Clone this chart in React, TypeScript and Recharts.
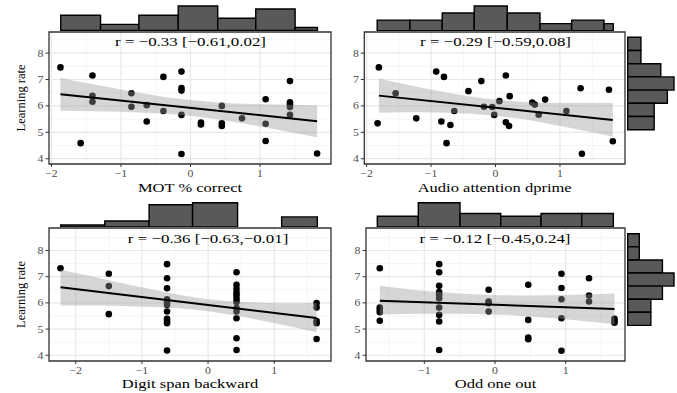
import React from 'react';
import {
  ComposedChart,
  Scatter,
  Line,
  Area,
  XAxis,
  YAxis,
  CartesianGrid,
  ReferenceArea,
  ReferenceDot,
} from 'recharts';

const FONT = '"Liberation Serif", "Times New Roman", serif';

// shared y axis
const yTicks = [4, 5, 6, 7, 8];
const yMinor = [4.5, 5.5, 6.5, 7.5, 8.5];

// MOT % correct
const motX = [-1.87, -1.58, -1.41, -1.41, -1.41, -0.85, -0.85, -0.63, -0.63, -0.39, -0.39, -0.13, -0.13, -0.13, -0.13, -0.13, 0.15, 0.15, 0.45, 0.45, 0.45, 0.74, 1.08, 1.08, 1.08, 1.43, 1.43, 1.43, 1.43, 1.43, 1.82];
const motY = [7.46, 4.59, 7.15, 6.38, 6.16, 6.48, 5.97, 6.03, 5.41, 7.1, 5.81, 7.3, 6.68, 6.58, 5.66, 4.18, 5.37, 5.3, 6.0, 5.34, 5.24, 5.53, 6.25, 5.32, 4.67, 6.94, 6.14, 6.06, 5.96, 5.66, 4.2];
const motFitX = [-1.87, 1.82];
const motFitY = [6.44, 5.42];
const motBandX = [-1.87, -1.4, -0.9, -0.4, 0, 0.4, 0.9, 1.4, 1.82];
const motBandLo = [5.82, 5.8, 5.77, 5.71, 5.62, 5.49, 5.27, 5.02, 4.81];
const motBandHi = [7.06, 6.82, 6.57, 6.35, 6.22, 6.13, 6.07, 6.04, 6.03];
const motHistEdges = [-1.866, -1.294, -0.743, -0.177, 0.391, 0.938, 1.504, 1.825];
const motHistCounts = [5, 2, 5, 8, 4, 7, 1];

// Audio attention dprime
const audX = [-1.81, -1.83, -1.55, -1.23, -0.92, -0.8, -0.84, -0.7, -0.76, -0.64, -0.42, -0.22, -0.18, -0.05, -0.02, 0.06, 0.16, 0.16, 0.22, 0.21, 0.57, 0.61, 0.67, 0.77, 1.1, 1.32, 1.34, 1.76, 1.82];
const audY = [7.46, 5.34, 6.48, 5.53, 7.3, 7.1, 5.41, 5.28, 4.59, 5.81, 6.56, 6.94, 5.97, 5.96, 5.66, 6.18, 7.15, 5.38, 6.37, 5.24, 6.13, 6.05, 5.67, 6.24, 5.81, 6.67, 4.19, 6.61, 4.66];
const audFitX = [-1.81, 1.82];
const audFitY = [6.39, 5.47];
const audBandX = [-1.81, -1.4, -0.9, -0.4, 0, 0.4, 0.9, 1.4, 1.82];
const audBandLo = [5.74, 5.76, 5.75, 5.7, 5.62, 5.5, 5.29, 5.05, 4.83];
const audBandHi = [7.04, 6.82, 6.57, 6.36, 6.24, 6.16, 6.11, 6.11, 6.11];
const audHistEdges = [-1.836, -1.328, -0.827, -0.33, 0.182, 0.69, 1.181, 1.683, 1.827];
const audHistCounts = [3, 3, 5, 7, 5, 2, 3, 2];

// Digit span backward
const digX = [-2.23, -1.5, -1.5, -1.5, -0.62, -0.62, -0.62, -0.62, -0.62, -0.62, -0.62, -0.62, -0.62, -0.62, -0.62, 0.43, 0.43, 0.43, 0.43, 0.43, 0.43, 0.43, 0.43, 0.43, 0.43, 0.43, 0.43, 1.64, 1.64, 1.64, 1.64, 1.64];
const digY = [7.32, 7.11, 6.64, 5.57, 7.48, 6.94, 6.56, 6.14, 6.03, 5.92, 5.67, 5.39, 5.31, 5.22, 4.18, 7.17, 6.69, 6.54, 6.39, 6.28, 6.15, 6.03, 5.8, 5.67, 5.41, 4.65, 4.2, 5.99, 5.82, 5.31, 5.22, 4.62];
const digFitX = [-2.23, 1.64];
const digFitY = [6.6, 5.42];
const digBandX = [-2.23, -1.7, -1.1, -0.5, 0, 0.5, 1.1, 1.64];
const digBandLo = [5.9, 5.9, 5.86, 5.8, 5.68, 5.48, 5.17, 4.88];
const digBandHi = [7.27, 6.98, 6.64, 6.34, 6.14, 6.04, 5.99, 6.0];
const digHistEdges = [-2.227, -1.561, -0.891, -0.234, 0.446, 1.112, 1.651];
const digHistCounts = [1, 3, 11, 12, 0, 5];

// Odd one out
const oddX = [-1.63, -1.63, -1.63, -1.63, -1.63, -0.79, -0.79, -0.79, -0.79, -0.79, -0.79, -0.79, -0.79, -0.79, -0.79, -0.09, -0.09, -0.09, -0.09, 0.47, 0.47, 0.47, 0.47, 0.94, 0.94, 0.94, 0.94, 0.94, 1.33, 1.33, 1.33, 1.69, 1.69, 1.69];
const oddY = [7.32, 5.82, 5.73, 5.64, 5.32, 7.48, 7.17, 6.65, 6.41, 6.31, 6.18, 5.82, 5.54, 5.29, 4.2, 6.5, 6.05, 5.99, 5.67, 6.69, 5.35, 4.68, 4.61, 7.11, 6.57, 6.14, 5.41, 4.17, 6.94, 6.28, 6.05, 5.39, 5.31, 5.24];
const oddFitX = [-1.63, 1.69];
const oddFitY = [6.08, 5.77];
const oddBandX = [-1.63, -1.1, -0.5, 0, 0.5, 1.1, 1.69];
const oddBandLo = [5.55, 5.58, 5.58, 5.56, 5.48, 5.35, 5.18];
const oddBandHi = [6.65, 6.48, 6.36, 6.3, 6.28, 6.31, 6.36];
const oddHistEdges = [-1.665, -1.085, -0.495, 0.081, 0.651, 1.227, 1.674];
const oddHistCounts = [4, 9, 5, 4, 5, 5];

// learning rate marginal (right column)
const rateEdges = [4.0, 4.5, 5.0, 5.5, 6.0, 6.5, 7.0, 7.5];
const rateCountsTop = [2, 2, 5, 7, 6, 4, 4];
const rateCountsBottom = [1, 1, 3, 4, 3, 2, 2];

const minus = (v: number) => String(v).replace('-', '\u2212');

const StretchText = ({ x, y, size, sx, fill = '#000', anchor = 'middle', dy, children }: any) => (
  <text
    x={0}
    y={0}
    dy={dy}
    transform={`translate(${x},${y}) scale(${sx},1)`}
    textAnchor={anchor}
    fontSize={size}
    fontFamily={FONT}
    fill={fill}
  >
    {children}
  </text>
);

const XTick = (p: any) => (
  <StretchText x={p.x} y={p.y} dy="0.71em" size={10} sx={1.18} fill="#4d4d4d">
    {minus(p.payload.value)}
  </StretchText>
);

const YTick = (p: any) => (
  <StretchText x={p.x} y={p.y} dy="0.35em" size={10} sx={1.18} fill="#4d4d4d" anchor="end">
    {p.payload.value}
  </StretchText>
);

const Panel = ({ left, top, width, height, margin, yAxisWidth, xAxisHeight, xDomain, yDomain, xTicks, xMinor, xTitle, yTitle, xs, ys, fitX, fitY, bandX, bandLo, bandHi, rText }: any) => {
  const points = xs.map((x: number, i: number) => ({ x, y: ys[i] }));
  const fit = fitX.map((x: number, i: number) => ({ x, y: fitY[i] }));
  const band = bandX.map((x: number, i: number) => ({ x, band: [bandLo[i], bandHi[i]] }));
  return (
    <div style={{ position: 'absolute', left, top }}>
      <ComposedChart width={width} height={height} margin={margin}>
        <CartesianGrid horizontalValues={yMinor} verticalValues={xMinor} stroke="#f2f2f2" strokeWidth={0.8} />
        <CartesianGrid horizontalValues={yTicks} verticalValues={xTicks} stroke="#e8e8e8" strokeWidth={1.2} />
        <XAxis
          type="number"
          dataKey="x"
          domain={xDomain}
          allowDataOverflow
          ticks={xTicks}
          height={xAxisHeight}
          axisLine={false}
          tickSize={3}
          tickMargin={2.5}
          tickLine={{ stroke: '#333' }}
          tick={XTick}
          label={{
            content: (p: any) => {
              const vb = p.viewBox;
              return (
                <StretchText x={vb.x + vb.width / 2} y={vb.y + vb.height - 3.5} size={13} sx={1.27}>
                  {xTitle}
                </StretchText>
              );
            },
          }}
        />
        <YAxis
          type="number"
          dataKey="y"
          domain={yDomain}
          allowDataOverflow
          ticks={yTicks}
          width={yAxisWidth}
          axisLine={false}
          tickSize={3.5}
          tickMargin={2}
          tickLine={{ stroke: '#333' }}
          tick={YTick}
          label={
            yTitle
              ? {
                  content: (p: any) => {
                    const vb = p.viewBox;
                    return (
                      <text
                        transform={`translate(${vb.x + 21},${vb.y + vb.height / 2}) rotate(-90)`}
                        textAnchor="middle"
                        dy="0.35em"
                        fontSize={12.5}
                        fontFamily={FONT}
                        fill="#000"
                      >
                        {yTitle}
                      </text>
                    );
                  },
                }
              : undefined
          }
        />
        <Scatter
          data={points}
          isAnimationActive={false}
          zIndex={500}
          shape={(p: any) => <circle cx={p.cx} cy={p.cy} r={3.3} fill="#000" />}
        />
        <Area
          data={band}
          dataKey="band"
          type="monotone"
          stroke="none"
          fill="#999999"
          fillOpacity={0.4}
          zIndex={650}
          isAnimationActive={false}
        />
        <Line data={fit} dataKey="y" type="linear" stroke="#000" strokeWidth={2} dot={false} zIndex={700} isAnimationActive={false} />
        <ReferenceDot
          x={0}
          y={8.27}
          r={0}
          ifOverflow="visible"
          shape={(p: any) => (
            <StretchText x={p.cx} y={p.cy} size={13} sx={1.3}>
              {rText}
            </StretchText>
          )}
        />
        <ReferenceArea
          x1={xDomain[0]}
          x2={xDomain[1]}
          y1={yDomain[0]}
          y2={yDomain[1]}
          fill="none"
          stroke="#333"
          strokeWidth={1.3}
          strokeOpacity={1}
          ifOverflow="visible"
        />
      </ComposedChart>
    </div>
  );
};

const TopHist = ({ left, top, width, height, margin, xDomain, maxCount, edges, counts }: any) => {
  const bins = counts.map((c: number, i: number) => ({ x: (edges[i] + edges[i + 1]) / 2, n: c }));
  return (
    <div style={{ position: 'absolute', left, top }}>
      <ComposedChart width={width} height={height} margin={margin} data={bins}>
        <XAxis type="number" dataKey="x" hide height={0} domain={xDomain} allowDataOverflow />
        <YAxis type="number" dataKey="n" hide width={0} domain={[0, maxCount]} allowDataOverflow />
        <Line dataKey="n" stroke="none" dot={false} activeDot={false} isAnimationActive={false} />
        {counts.map((c: number, i: number) => (
          <ReferenceArea
            key={i}
            x1={edges[i]}
            x2={edges[i + 1]}
            y1={0}
            y2={c}
            fill="#595959"
            fillOpacity={1}
            stroke="#000"
            strokeOpacity={1}
            strokeWidth={1.4}
            ifOverflow="visible"
          />
        ))}
      </ComposedChart>
    </div>
  );
};

const SideHist = ({ left, top, width, height, margin, yDomain, maxCount, edges, counts }: any) => {
  const bins = counts.map((c: number, i: number) => ({ y: (edges[i] + edges[i + 1]) / 2, n: c }));
  return (
    <div style={{ position: 'absolute', left, top }}>
      <ComposedChart width={width} height={height} margin={margin} data={bins} layout="vertical">
        <XAxis type="number" dataKey="n" hide height={0} domain={[0, maxCount]} allowDataOverflow />
        <YAxis type="number" dataKey="y" hide width={0} domain={yDomain} allowDataOverflow />
        <Line dataKey="n" stroke="none" dot={false} activeDot={false} isAnimationActive={false} />
        {counts.map((c: number, i: number) => (
          <ReferenceArea
            key={i}
            x1={0}
            x2={c}
            y1={edges[i]}
            y2={edges[i + 1]}
            fill="#595959"
            fillOpacity={1}
            stroke="#000"
            strokeOpacity={1}
            strokeWidth={1.4}
            ifOverflow="visible"
          />
        ))}
      </ComposedChart>
    </div>
  );
};

const topY = [3.8, 8.8];
const botY = [3.78, 8.86];

export default function App() {
  return (
    <div style={{ position: 'absolute', left: 0, top: 0, width: 677, height: 393, background: '#fff', fontFamily: FONT }}>
      <Panel
        left={0} top={0} width={340} height={195}
        margin={{ top: 32, right: 9, bottom: 0, left: 0 }}
        yAxisWidth={49} xAxisHeight={31}
        xDomain={[-2.035, 2.02]} yDomain={topY}
        xTicks={[-2, -1, 0, 1]} xMinor={[-1.5, -0.5, 0.5, 1.5]}
        xTitle="MOT % correct" yTitle="Learning rate"
        xs={motX} ys={motY} fitX={motFitX} fitY={motFitY}
        bandX={motBandX} bandLo={motBandLo} bandHi={motBandHi}
        rText={'r = \u22120.33 [\u22120.61,0.02]'}
      />
      <TopHist
        left={0} top={0} width={340} height={31}
        margin={{ top: 6, right: 9, bottom: 0.5, left: 49 }}
        xDomain={[-2.035, 2.02]} maxCount={8}
        edges={motHistEdges} counts={motHistCounts}
      />

      <Panel
        left={330} top={0} width={300} height={195}
        margin={{ top: 32, right: 5, bottom: 0, left: 0 }}
        yAxisWidth={34.3} xAxisHeight={31}
        xDomain={[-2.036, 2.009]} yDomain={topY}
        xTicks={[-2, -1, 0, 1]} xMinor={[-1.5, -0.5, 0.5, 1.5]}
        xTitle="Audio attention dprime"
        xs={audX} ys={audY} fitX={audFitX} fitY={audFitY}
        bandX={audBandX} bandLo={audBandLo} bandHi={audBandHi}
        rText={'r = \u22120.29 [\u22120.59,0.08]'}
      />
      <TopHist
        left={330} top={0} width={300} height={31}
        margin={{ top: 6, right: 5, bottom: 0.3, left: 34.3 }}
        xDomain={[-2.036, 2.009]} maxCount={7}
        edges={audHistEdges} counts={audHistCounts}
      />
      <SideHist
        left={627} top={0} width={50} height={195}
        margin={{ top: 32, right: 3, bottom: 31, left: 0.7 }}
        yDomain={topY} maxCount={7}
        edges={rateEdges} counts={rateCountsTop}
      />

      <Panel
        left={0} top={196} width={340} height={195}
        margin={{ top: 32, right: 9, bottom: 0, left: 0 }}
        yAxisWidth={49} xAxisHeight={30}
        xDomain={[-2.404, 1.858]} yDomain={botY}
        xTicks={[-2, -1, 0, 1]} xMinor={[-1.5, -0.5, 0.5, 1.5]}
        xTitle="Digit span backward" yTitle="Learning rate"
        xs={digX} ys={digY} fitX={digFitX} fitY={digFitY}
        bandX={digBandX} bandLo={digBandLo} bandHi={digBandHi}
        rText={'r = \u22120.36 [\u22120.63,\u22120.01]'}
      />
      <TopHist
        left={0} top={196} width={340} height={31}
        margin={{ top: 6.7, right: 9, bottom: 0, left: 49 }}
        xDomain={[-2.404, 1.858]} maxCount={12}
        edges={digHistEdges} counts={digHistCounts}
      />

      <Panel
        left={330} top={196} width={300} height={195}
        margin={{ top: 32, right: 5, bottom: 0, left: 0 }}
        yAxisWidth={36} xAxisHeight={30}
        xDomain={[-1.825, 1.839]} yDomain={botY}
        xTicks={[-1, 0, 1]} xMinor={[-1.5, -0.5, 0.5, 1.5]}
        xTitle="Odd one out"
        xs={oddX} ys={oddY} fitX={oddFitX} fitY={oddFitY}
        bandX={oddBandX} bandLo={oddBandLo} bandHi={oddBandHi}
        rText={'r = \u22120.12 [\u22120.45,0.24]'}
      />
      <TopHist
        left={330} top={196} width={300} height={31}
        margin={{ top: 6.7, right: 5, bottom: 0, left: 36 }}
        xDomain={[-1.825, 1.839]} maxCount={9}
        edges={oddHistEdges} counts={oddHistCounts}
      />
      <SideHist
        left={627} top={196} width={50} height={195}
        margin={{ top: 32, right: 3, bottom: 30, left: 0.7 }}
        yDomain={botY} maxCount={4}
        edges={rateEdges} counts={rateCountsBottom}
      />
    </div>
  );
}
